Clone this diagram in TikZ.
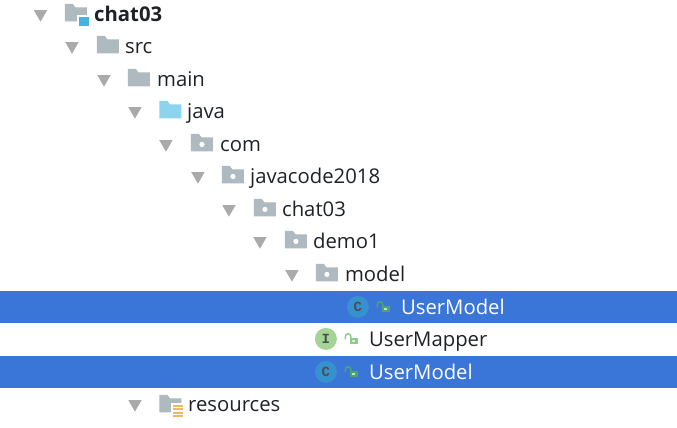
\documentclass[tikz,border=0pt]{standalone}
\usepackage{fontspec}
\setmainfont{Open Sans}
\newfontfamily\iconfont{Liberation Mono}
\usetikzlibrary{shapes.geometric}
\definecolor{barBlue}{HTML}{3A75D8}
\definecolor{folderGray}{HTML}{AEB9C0}
\definecolor{folderBlue}{HTML}{8CD3EE}
\definecolor{arrowGray}{HTML}{AAAAAA}
\definecolor{textDark}{HTML}{1E2226}
\definecolor{classBlue}{HTML}{3592CE}
\definecolor{ifaceGreen}{HTML}{A6D396}
\definecolor{lockGreen}{HTML}{8FCB8F}
\definecolor{lockDark}{HTML}{4FA36C}
\definecolor{moduleBlue}{HTML}{45B5E0}
\definecolor{resOrange}{HTML}{EDB765}

\begin{document}
\begin{tikzpicture}[
    x=1pt, y=-1pt, font=\fontsize{20.3}{24}\selectfont,
    % Styles
    treeArrow/.style={regular polygon, regular polygon sides=3, shape border rotate=180, fill=arrowGray, inner sep=0pt, minimum size=15.5pt},
    rowText/.style={anchor=base west, inner sep=0pt, text=textDark},
    selText/.style={rowText, text=white},
    selBar/.style={fill=barBlue, draw=none, anchor=north west, inner sep=0pt, minimum width=677pt, minimum height=32pt},
    typeIcon/.style={circle, inner sep=0pt, minimum size=22pt, text=textDark!80, font=\fontsize{14}{14}\iconfont\bfseries},
    pics/folderIcon/.style={code={
        \fill[#1] (-11,-10) -- (-3,-10) -- (-0.5,-6.5) -- (11,-6.5) -- (11,7.5) -- (-11,7.5) -- cycle;
    }},
    pics/packageIcon/.style={code={
        \fill[folderGray] (-11,-10) -- (-3,-10) -- (-0.5,-6.5) -- (11,-6.5) -- (11,7.5) -- (-11,7.5) -- cycle;
        \fill[white] (0,0.5) circle (2.6);
    }},
    pics/lockIcon/.style={code={
        \draw[#1, line width=1.5pt] (-5.5,0.5) -- (-5.5,-2.5) arc (180:360:2.7) -- (-0.1,0);
        \fill[#1] (-1,-1) rectangle (7,5.5);
        \fill[#1!35!white] (1.5,1) rectangle (4.5,3);
    }}
]

% ================= SELECTED ROWS =================
\node[selBar] (barOne) at (0, 290.5) {};
\node[selBar] (barTwo) at (0, 355.5) {};

% ================= ARROWS =================
\node[treeArrow] (a0) at (40.5, 14) {};
\node[treeArrow] (a1) at (72, 46) {};
\node[treeArrow] (a2) at (104, 79) {};
\node[treeArrow] (a3) at (135, 111) {};
\node[treeArrow] (a4) at (166, 144) {};
\node[treeArrow] (a5) at (198, 176) {};
\node[treeArrow] (a6) at (229, 209) {};
\node[treeArrow] (a7) at (260, 241) {};
\node[treeArrow] (a8) at (292, 274) {};
\node[treeArrow] (a9) at (135, 404) {};

% ================= FOLDERS =================
% module folder with its small square
\pic (chatIcon) at (76, 14) {folderIcon=folderGray};
\fill[white] (77.5, 15.5) rectangle (90, 28);
\fill[moduleBlue] (79, 17) rectangle (89, 26.5);
\pic (srcIcon) at (108, 46) {folderIcon=folderGray};
\pic (mainIcon) at (139, 79) {folderIcon=folderGray};
\pic (javaIcon) at (170.5, 111) {folderIcon=folderBlue};
\pic (comIcon) at (202, 144) {packageIcon};
\pic (codeIcon) at (233, 176) {packageIcon};
\pic (subIcon) at (265, 209) {packageIcon};
\pic (demoIcon) at (296, 241) {packageIcon};
\pic (modelIcon) at (327, 274) {packageIcon};
% resources folder with its orange lines
\pic (resIcon) at (170.5, 405) {folderIcon=folderGray};
\fill[white] (171.5, 403) rectangle (184, 418);
\foreach \y in {405,408.5,412,415.5}
    \fill[resOrange] (173, \y) rectangle (183, \y+2);

% ================= TYPE ICONS =================
\node[typeIcon, fill=classBlue] (innerClass) at (358, 307) {C};
\node[typeIcon, fill=ifaceGreen] (mapperIface) at (326, 339) {I};
\node[typeIcon, fill=classBlue] (outerClass) at (326, 372) {C};
\pic (innerLock) at (383, 307) {lockIcon=lockDark};
\pic (mapperLock) at (351, 339) {lockIcon=lockGreen};
\pic (outerLock) at (351, 372) {lockIcon=lockDark};

% ================= LABELS =================
\node[rowText, font=\fontsize{20.3}{24}\selectfont\bfseries] (t0) at (94, 22) {chat03};
\node[rowText] (t1) at (125, 54) {src};
\node[rowText] (t2) at (157, 87) {main};
\node[rowText] (t3) at (187, 119) {java};
\node[rowText] (t4) at (220, 152) {com};
\node[rowText] (t5) at (250, 184) {javacode2018};
\node[rowText] (t6) at (282, 217) {chat03};
\node[rowText] (t7) at (313, 249) {demo1};
\node[rowText] (t8) at (345, 282) {model};
\node[selText] (t9) at (401, 314.5) {UserModel};
\node[rowText] (t10) at (369, 347) {UserMapper};
\node[selText] (t11) at (369, 379.5) {UserModel};
\node[rowText] (t12) at (188, 412) {resources};

\useasboundingbox (0,0) rectangle (677,428);
\end{tikzpicture}
\end{document}
